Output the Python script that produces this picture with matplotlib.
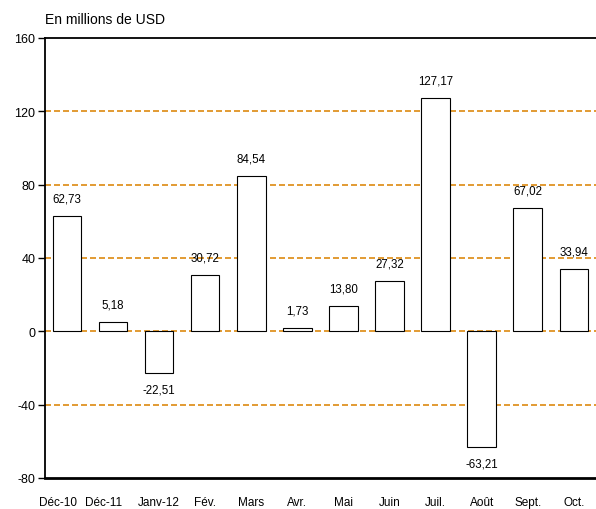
#!/usr/bin/env python3
"""Monthly flows bar chart (en millions de USD)."""

import matplotlib
matplotlib.use("Agg")
import matplotlib.pyplot as plt
from matplotlib.transforms import ScaledTranslation

plt.rcParams.update({
    "font.family": ["Liberation Sans", "DejaVu Sans"],
    "font.size": 8,
    "axes.unicode_minus": False,
})

# ── Data ─────────────────────────────────────────────────────────────────
months = ["Déc-10", "Déc-11", "Janv-12", "Fév.", "Mars", "Avr.",
          "Mai", "Juin", "Juil.", "Août", "Sept.", "Oct."]
values = [62.73, 5.18, -22.51, 30.72, 84.54, 1.73,
          13.80, 27.32, 127.17, -63.21, 67.02, 33.94]
yticks = [-80, -40, 0, 40, 80, 120, 160]
gridlines = [-40, 0, 40, 80, 120]


def main():
    fig = plt.figure(figsize=(5.96, 5.10), dpi=100)
    ax = fig.add_axes([45 / 596, 31 / 510, 1 - 45 / 596, 440 / 510])

    for g in gridlines:
        ax.axhline(g, color="#DD8A10", linestyle=(0, (3.6, 1.8)),
                   linewidth=1.2, zorder=1)

    x = range(len(months))
    ax.bar(x, values, width=0.62, color="white", edgecolor="black",
           linewidth=0.8, zorder=2)

    for xi, v in zip(x, values):
        txt = f"{v:.2f}".replace(".", ",")
        if v >= 0:
            ax.annotate(txt, (xi, v), xytext=(0, 8.5), textcoords="offset points",
                        ha="center", va="bottom", fontsize=8.3)
        else:
            ax.annotate(txt, (xi, v), xytext=(0, -7.5), textcoords="offset points",
                        ha="center", va="top", fontsize=8.3)

    ax.set_xlim(-0.475, len(months) - 0.52)
    ax.set_ylim(-80, 160)
    ax.set_yticks(yticks)
    ax.set_xticks(list(x))
    ax.set_xticklabels(months)
    ax.tick_params(axis="x", length=0, pad=13, labelsize=8.5)
    ax.tick_params(axis="y", length=5, width=1, labelsize=9, pad=2)

    # the first two labels sit a little to the left in the original
    for lbl in ax.get_xticklabels()[:2]:
        lbl.set_transform(lbl.get_transform()
                          + ScaledTranslation(-0.09, 0, fig.dpi_scale_trans))

    ax.spines["right"].set_visible(False)
    for s in ("left", "top"):
        ax.spines[s].set_linewidth(1.3)
    ax.spines["bottom"].set_linewidth(2)

    fig.text(45 / 596, 1 - 20 / 510, "En millions de USD", fontsize=10,
             ha="left", va="center")

    fig.savefig("out.png", dpi=100)
    plt.close(fig)


if __name__ == "__main__":
    main()
